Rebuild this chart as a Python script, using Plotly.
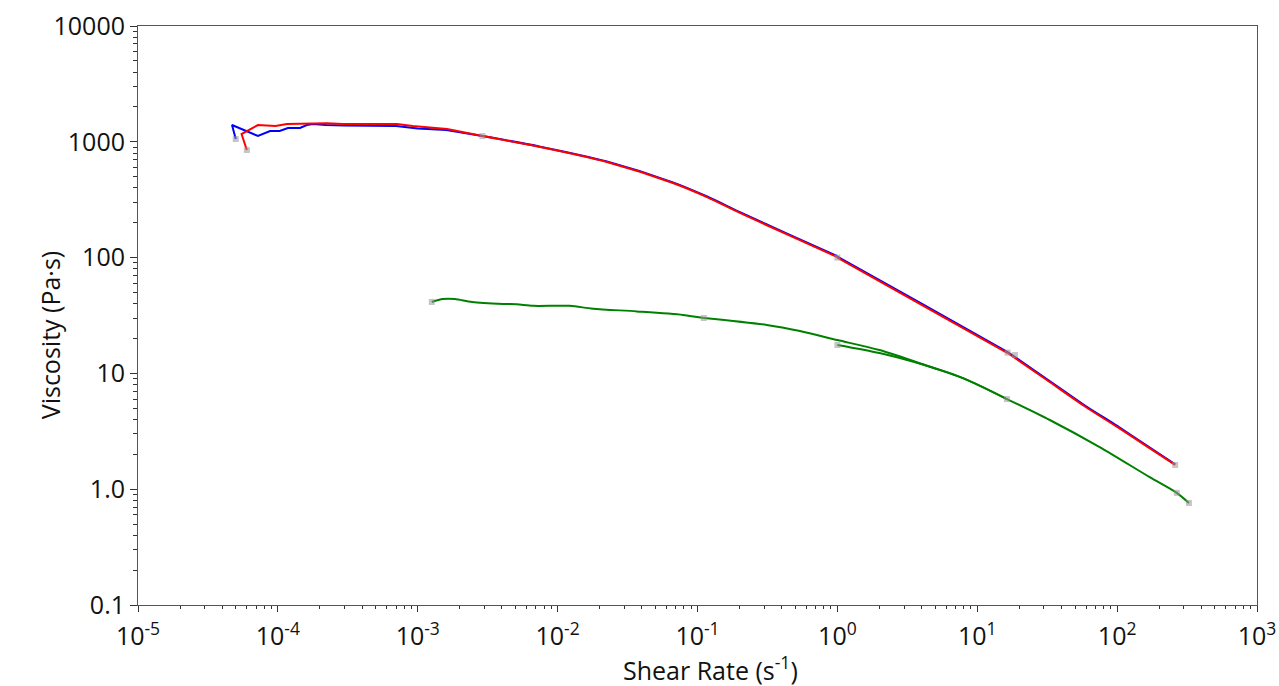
import plotly.graph_objects as go

# ---- data ----
# Blue series, segments
blue_x1 = [5.0e-5, 4.7e-5, 7.2e-5, 8.8e-5, 1.03e-4, 1.18e-4, 1.44e-4, 1.61e-4, 1.78e-4, 2.2e-4, 3.0e-4, 4.5e-4, 7.0e-4, 1.0e-3, 1.6e-3, 2.9e-3]
blue_y1 = [1057, 1396, 1122, 1240, 1240, 1316, 1316, 1396, 1425, 1400, 1385, 1380, 1370, 1300, 1265, 1120]
blue_x2 = [2.9e-3, 7.5e-3, 0.0225, 0.0667, 0.117, 0.201, 0.457, 1.0]
blue_y2 = [1120, 908, 676, 446, 337, 247, 157, 103]
blue_x3 = [1.0, 4.0, 16.5]
blue_y3 = [102, 40, 15.3]
blue_x4 = [16.5, 31.4, 60, 100, 160, 260]
blue_y4 = [15.3, 8.95, 5.2, 3.52, 2.42, 1.64]

# Red series, segments
red_x1 = [6.0e-5, 5.5e-5, 7.2e-5, 9.6e-5, 1.16e-4, 2.24e-4, 2.92e-4, 7.1e-4, 9.2e-4, 1.62e-3, 2.9e-3]
red_y1 = [849, 1166, 1396, 1369, 1425, 1444, 1425, 1425, 1369, 1290, 1120]
red_x2 = [2.9e-3, 7.5e-3, 0.0225, 0.0667, 0.117, 0.201, 0.457, 1.0]
red_y2 = [1120, 902, 670, 441, 333, 243, 155, 101]
red_x3 = [1.0, 4.0, 16.5]
red_y3 = [100, 39, 15.0]
red_x4 = [16.5, 31.4, 60, 100, 160, 260]
red_y4 = [15.0, 8.77, 5.1, 3.45, 2.38, 1.62]

# Green series, segments
green_x1 = [1.26e-3, 1.51e-3, 1.84e-3, 2.44e-3, 4.06e-3, 5.1e-3, 6.7e-3, 0.0122, 0.0179, 0.0369, 0.0787, 0.111]
green_y1 = [41.4, 43.9, 43.9, 41.4, 39.8, 39.5, 38.3, 38.3, 36.2, 34.3, 32.0, 30.1]
green_x2 = [0.111, 0.313, 0.54, 1.0, 2.0, 4.6, 7.9, 16.3]
green_y2 = [30.1, 26.2, 23.2, 19.4, 15.9, 11.4, 9.1, 6.0]
green_x3 = [1.0, 2.0, 3.5, 7.9, 16.3]
green_y3 = [17.6, 15.0, 12.6, 9.1, 6.0]
green_x4 = [16.3, 33, 75, 171, 267, 326]
green_y4 = [6.0, 3.96, 2.31, 1.27, 0.93, 0.76]

# Step end-point markers
mark_x = [6.0e-5, 5.0e-5, 2.9e-3, 1.0, 16.5, 18.6, 260, 1.26e-3, 0.111, 1.0, 16.3, 267, 326]
mark_y = [849, 1057, 1120, 100, 15.1, 14.4, 1.62, 41.4, 30.1, 17.6, 6.0, 0.93, 0.76]

x_tickvals = [1e-5, 1e-4, 1e-3, 1e-2, 1e-1, 1e0, 1e1, 1e2, 1e3]
x_ticktext = ["10<sup>-5</sup>", "10<sup>-4</sup>", "10<sup>-3</sup>", "10<sup>-2</sup>",
              "10<sup>-1</sup>", "10<sup>0</sup>", "10<sup>1</sup>", "10<sup>2</sup>", "10<sup>3</sup>"]
y_tickvals = [0.1, 1, 10, 100, 1000, 10000]
y_ticktext = ["0.1", "1.0", "10", "100", "1000", "10000"]
x_title = "Shear Rate (s<sup>-1</sup>)"
y_title = "Viscosity (Pa·s)"

fig = go.Figure()
series = [
    ("Blue", "#0000ff", [(blue_x1, blue_y1, "linear"), (blue_x2, blue_y2, "spline"),
                         (blue_x3, blue_y3, "spline"), (blue_x4, blue_y4, "spline")]),
    ("Red", "#ff0000", [(red_x1, red_y1, "linear"), (red_x2, red_y2, "spline"),
                        (red_x3, red_y3, "spline"), (red_x4, red_y4, "spline")]),
    ("Green", "#008000", [(green_x1, green_y1, "spline"), (green_x2, green_y2, "spline"),
                          (green_x3, green_y3, "spline"), (green_x4, green_y4, "spline")]),
]
for name, col, segs in series:
    for sx, sy, shape in segs:
        fig.add_trace(go.Scatter(x=sx, y=sy, mode="lines", name=name,
                                 line=dict(color=col, width=2, shape=shape, smoothing=0.8)))

fig.add_trace(go.Scatter(x=mark_x, y=mark_y, mode="markers", name="steps",
                         marker=dict(symbol="square", size=6, color="rgba(150,150,150,0.55)",
                                     line=dict(width=0))))

font_family = "Open Sans, Noto Sans, sans-serif"
fig.update_layout(
    width=1279, height=686,
    margin=dict(l=138, r=22, t=26, b=81),
    paper_bgcolor="white", plot_bgcolor="white",
    showlegend=False,
    font=dict(family=font_family, size=25, color="#111111"),
    annotations=[
        dict(text=x_title, xref="paper", yref="paper", x=0.512, y=-0.109,
             xanchor="center", yanchor="middle", showarrow=False, font=dict(size=25)),
        dict(text=y_title, xref="paper", yref="paper", x=-0.0786, y=0.466,
             xanchor="center", yanchor="middle", textangle=-90, showarrow=False,
             font=dict(size=25)),
    ],
)
fig.update_xaxes(
    type="log", range=[-5, 3], automargin=False,
    tickmode="array", tickvals=x_tickvals, ticktext=x_ticktext,
    ticks="outside", ticklen=6, tickwidth=1, tickcolor="#333333",
    ticklabelstandoff=3,
    showline=True, linecolor="#555555", linewidth=1, mirror=True,
    showgrid=False, zeroline=False,
    tickfont=dict(size=25),
    minor=dict(ticks="outside", ticklen=3, tickcolor="#333333", dtick="D1", showgrid=False),
)
fig.update_yaxes(
    type="log", range=[-1, 4], automargin=False,
    tickmode="array", tickvals=y_tickvals, ticktext=y_ticktext,
    ticks="outside", ticklen=7, tickwidth=1, tickcolor="#333333",
    showline=True, linecolor="#555555", linewidth=1, mirror=True,
    showgrid=False, zeroline=False,
    tickfont=dict(size=25),
    minor=dict(ticks="outside", ticklen=4, tickcolor="#333333", dtick="D1", showgrid=False),
)

fig.write_html("out.html")
